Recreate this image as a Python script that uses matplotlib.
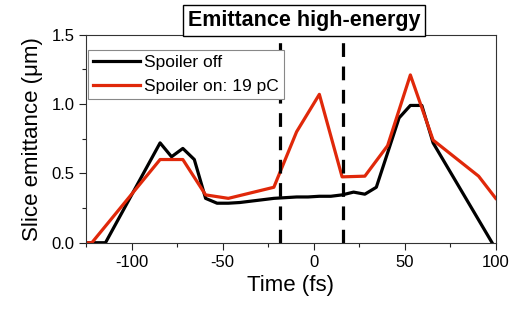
import matplotlib.pyplot as plt

plt.rcParams['font.family'] = ['Liberation Sans', 'DejaVu Sans']
plt.rcParams['axes.unicode_minus'] = False

# spoiler off
t_off = [-125, -114.4, -84.4, -78.1, -71.9, -65.6, -59.4, -53.1, -46.9, -40.6, -34.4,
         -28.1, -21.9, -15.6, -9.4, -3.1, 3.1, 9.4, 15.6, 21.9, 28.1, 34.4, 46.9,
         53.1, 59.4, 65.6, 98.0]
e_off = [0.0, 0.0, 0.72, 0.62, 0.68, 0.60, 0.32, 0.285, 0.285, 0.29, 0.30,
         0.31, 0.32, 0.325, 0.33, 0.33, 0.335, 0.335, 0.345, 0.365, 0.35, 0.40, 0.90,
         0.99, 0.99, 0.72, 0.0]

# spoiler on: 19 pC
t_on = [-125, -121.9, -84.4, -71.9, -59.4, -46.9, -21.9, -9.4, 3.1, 15.6, 28.1,
        40.6, 53.1, 65.6, 90.6, 100]
e_on = [0.0, 0.0, 0.60, 0.60, 0.345, 0.32, 0.40, 0.80, 1.07, 0.475, 0.48,
        0.70, 1.21, 0.74, 0.48, 0.32]

window = [-18.3, 16.2]

fig = plt.figure(figsize=(5.1, 3.1), dpi=100)
ax = fig.add_axes([0.169, 0.217, 0.803, 0.671])

ax.plot(t_off, e_off, color='black', lw=2.3, label='Spoiler off')
ax.plot(t_on, e_on, color='#e0280a', lw=2.3, label='Spoiler on: 19 pC')
for x in window:
    ax.axvline(x, color='black', lw=2.3, ls=(0, (4.3, 3.0)))

ax.set_xlim(-125, 100)
ax.set_ylim(0, 1.5)
ax.set_xticks([-100, -50, 0, 50, 100])
ax.set_xticks([-125, -75, -25, 25, 75], minor=True)
ax.set_yticks([0, 0.5, 1.0, 1.5])
ax.set_yticklabels(['0.0', '0.5', '1.0', '1.5'])
ax.set_yticks([0.25, 0.75, 1.25], minor=True)
ax.tick_params(which='major', direction='out', length=5, width=0.8, labelsize=12, colors='#222222', labelcolor='black')
ax.tick_params(which='minor', direction='out', length=3, width=0.8, colors='#222222')
for s in ax.spines.values():
    s.set_color('#333333')
    s.set_linewidth(0.8)

ax.set_xlabel('Time (fs)', fontsize=16, labelpad=4)
ax.set_ylabel('Slice emittance (\u03bcm)', fontsize=16, labelpad=6)

leg = ax.legend(loc='upper left', bbox_to_anchor=(0.005, 0.928), borderaxespad=0,
                fontsize=12.5, frameon=True, fancybox=False, framealpha=1,
                handlelength=2.7, handletextpad=0.2, borderpad=0.3, labelspacing=0.5)
leg.get_frame().set_edgecolor('#888888')
leg.get_frame().set_linewidth(0.8)

fig.text(0.597, 0.934, 'Emittance high-energy', fontsize=15.5, fontweight='bold',
         ha='center', va='center',
         bbox=dict(boxstyle='square,pad=0.22', fc='white', ec='black', lw=1.0))

fig.savefig('out.png', dpi=100)
